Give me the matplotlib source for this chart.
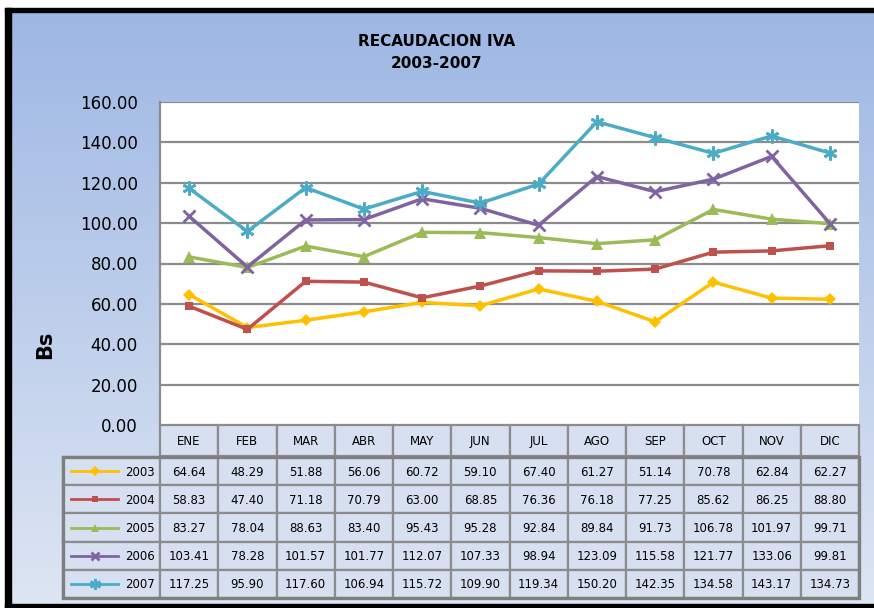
import matplotlib

matplotlib.use("Agg")
import matplotlib.pyplot as plt  # noqa: E402
import numpy as np  # noqa: E402
from matplotlib.patches import Rectangle  # noqa: E402

months = ["ENE", "FEB", "MAR", "ABR", "MAY", "JUN",
          "JUL", "AGO", "SEP", "OCT", "NOV", "DIC"]
years = ["2003", "2004", "2005", "2006", "2007"]

v2003 = [64.64, 48.29, 51.88, 56.06, 60.72, 59.10, 67.40, 61.27, 51.14, 70.78, 62.84, 62.27]
v2004 = [58.83, 47.40, 71.18, 70.79, 63.00, 68.85, 76.36, 76.18, 77.25, 85.62, 86.25, 88.80]
v2005 = [83.27, 78.04, 88.63, 83.40, 95.43, 95.28, 92.84, 89.84, 91.73, 106.78, 101.97, 99.71]
v2006 = [103.41, 78.28, 101.57, 101.77, 112.07, 107.33, 98.94, 123.09, 115.58, 121.77, 133.06, 99.81]
v2007 = [117.25, 95.90, 117.60, 106.94, 115.72, 109.90, 119.34, 150.20, 142.35, 134.58, 143.17, 134.73]
series = [v2003, v2004, v2005, v2006, v2007]

y_ticks = [0, 20, 40, 60, 80, 100, 120, 140, 160]

_COLORS = ["#FFC000", "#C0504D", "#9BBB59", "#8064A2", "#4BACC6"]
_MARKERS = [
    dict(marker="D", ms=6.5, mew=0),
    dict(marker="s", ms=5.5, mew=0),
    dict(marker="^", ms=8, mew=0),
    dict(marker="x", ms=8, mew=2),
    dict(marker=(6, 2, 0), ms=10, mew=2),
]

W, H = 874, 608
GRID = "#8C8C8C"
TFS = 8.5  # table font size

fig = plt.figure(figsize=(W / 100, H / 100), dpi=100)

# background gradient + frame (pixel coordinates)
bg = fig.add_axes([0, 0, 1, 1], zorder=0)
bg.set_xlim(0, W)
bg.set_ylim(H, 0)
bg.axis("off")
top = np.array([156, 182, 227]) / 255
bot = np.array([222, 230, 243]) / 255
t = np.linspace(0, 1, 256)[:, None]
grad = top[None, :] * (1 - t) + bot[None, :] * t
bg.imshow(grad[:, None, :], extent=[0, W, H, 0], aspect="auto")
bg.add_patch(Rectangle((0, 0), 5, H, color="white", zorder=2))
bg.add_patch(Rectangle((0, 0), W, 8, color="white", zorder=2))
bg.add_patch(Rectangle((5, 8), 6, H, color="black", zorder=3))
bg.add_patch(Rectangle((5, 8), W, 4, color="black", zorder=3))
bg.add_patch(Rectangle((5, 604), W, 4, color="black", zorder=3))

bg.text(437, 42, "RECAUDACION IVA", ha="center", va="center",
        fontsize=11, fontweight="bold", zorder=4)
bg.text(437, 63, "2003-2007", ha="center", va="center",
        fontsize=11, fontweight="bold", zorder=4)
bg.text(45, 345, "Bs", ha="center", va="center", rotation=90,
        fontsize=15, fontweight="bold", zorder=4)

# main plot area
x0, x1, ytop, ybot = 160, 859, 102, 425
ax = fig.add_axes([x0 / W, 1 - ybot / H, (x1 - x0) / W, (ybot - ytop) / H],
                  zorder=2)
ax.set_facecolor("white")
x = np.arange(len(months))
for vals, col, mk in zip(series, _COLORS, _MARKERS):
    ax.plot(x, vals, color=col, lw=2.5, mec=col, mfc=col, **mk,
            solid_joinstyle="round", clip_on=False, zorder=3)
ax.set_xlim(-0.5, len(months) - 0.5)
ax.set_ylim(0, 160)
ax.set_yticks(y_ticks)
ax.set_yticklabels([f"{v:.2f}" for v in y_ticks], fontsize=12)
ax.tick_params(axis="y", length=0, pad=16)
ax.set_xticks([])
for yv in y_ticks[1:]:
    ax.axhline(yv, color=GRID, lw=1.6, zorder=1)
for s in ["top", "right", "bottom"]:
    ax.spines[s].set_visible(False)
ax.spines["left"].set_color(GRID)
ax.spines["left"].set_linewidth(1.6)

# data table with legend keys
tab = fig.add_axes([0, 0, 1, 1], zorder=3)
tab.set_xlim(0, W)
tab.set_ylim(H, 0)
tab.axis("off")
cw = (x1 - x0) / len(months)
lab_x0 = 63
hdr_h = 31
row_h = 28.2
row_top = ybot + hdr_h + 1
cell_fc = "#D7E0F1"

for i, m in enumerate(months):
    cx = x0 + i * cw
    tab.add_patch(Rectangle((cx, ybot), cw, hdr_h, fc=cell_fc, ec=GRID, lw=1.6))
    tab.text(cx + cw / 2, ybot + hdr_h / 2 + 1, m, ha="center", va="center",
             fontsize=TFS)

for r, (yr, vals, col, mk) in enumerate(zip(years, series, _COLORS, _MARKERS)):
    ry = row_top + r * row_h
    tab.add_patch(Rectangle((lab_x0, ry), x0 - lab_x0, row_h, fc=cell_fc,
                            ec=GRID, lw=1.6))
    tab.plot([71, 118], [ry + row_h / 2] * 2, color=col, lw=2)
    mk_small = dict(mk)
    mk_small["ms"] = mk["ms"] * 0.8
    tab.plot([94.5], [ry + row_h / 2], color=col, mec=col, mfc=col, **mk_small)
    tab.text(155, ry + row_h / 2 + 1, yr, ha="right", va="center", fontsize=TFS)
    for i, v in enumerate(vals):
        cx = x0 + i * cw
        tab.add_patch(Rectangle((cx, ry), cw, row_h, fc=cell_fc, ec=GRID,
                                lw=1.6))
        tab.text(cx + cw / 2, ry + row_h / 2 + 1, f"{v:.2f}", ha="center",
                 va="center", fontsize=TFS)

n = len(years)
tab.add_patch(Rectangle((lab_x0, row_top), x1 - lab_x0, n * row_h, fill=False,
                        ec="#7F7F7F", lw=2.4))

fig.savefig("out.png", dpi=100)
plt.close(fig)
